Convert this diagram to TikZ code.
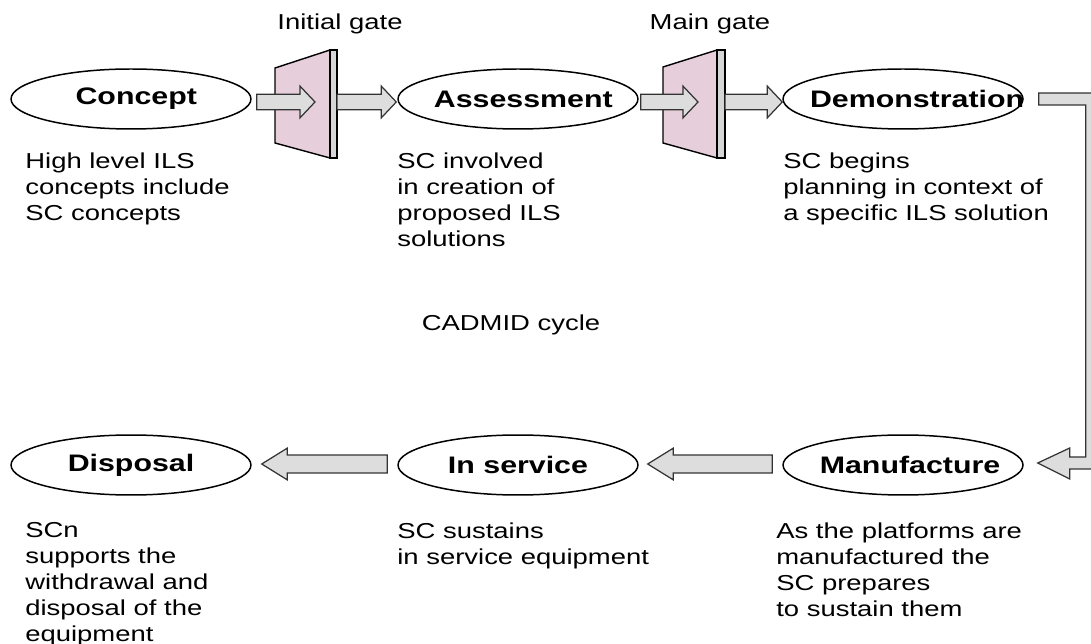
\documentclass[tikz,border=0pt]{standalone}
\usepackage{fontspec}
\setmainfont{Liberation Sans}[FakeStretch=1.27]
\usetikzlibrary{calc,shapes.geometric}
\definecolor{gatepink}{RGB}{230,206,219}
\definecolor{arrowgray}{RGB}{221,221,221}
\definecolor{bargray}{RGB}{214,214,214}

% block arrow: [head length]{shaft half width}{tail}{tip}, horizontal
\newcommand{\blockarrow}[4][8.5pt]{%
  \draw[blockarr] let \p1=#3, \p2=#4, \n1={sign(\x2-\x1)} in
    ({\x1},{\y1+#2}) -- ({\x2-\n1*#1},{\y1+#2}) -- ({\x2-\n1*#1},{\y1+9pt})
    -- ({\x2},{\y1}) -- ({\x2-\n1*#1},{\y1-9pt}) -- ({\x2-\n1*#1},{\y1-#2})
    -- ({\x1},{\y1-#2}) -- cycle;}

\tikzset{
  phase/.style={ellipse, draw, line width=0.85pt, minimum width=4.8cm,
    minimum height=1.2cm, inner sep=0pt, font=\fontsize{13.6}{15}\selectfont\bfseries},
  note/.style={anchor=north west, align=left, inner sep=0pt,
    font=\fontsize{12.3}{14.8}\selectfont},
  caption/.style={inner sep=0pt, font=\fontsize{12.3}{14.8}\selectfont},
  blockarr/.style={fill=arrowgray, draw=black!80, line width=0.7pt},
  gatefill/.style={fill=gatepink, draw, line width=0.8pt},
  gatebar/.style={fill=bargray, draw, line width=0.8pt}
}

\begin{document}
\begin{tikzpicture}[x=0.02cm, y=-0.02cm]
  \useasboundingbox (0,0) rectangle (1091,644);

  % Phasen oben
  \node[phase] (concept) at (131,99) {\makebox[0pt]{\hspace{6pt}Concept}};
  \node[phase] (assess) at (518,99) {\makebox[0pt]{\hspace{6pt}Assessment}};
  \node[phase] (demo) at (903,99) {\makebox[0pt]{\hspace{16pt}Demonstration}};
  % Phasen unten
  \node[phase] (disposal) at (131,465) {\makebox[0pt]{Disposal}};
  \node[phase] (service) at (518,465) {\makebox[0pt]{In service}};
  \node[phase] (manu) at (903,465) {\makebox[0pt]{\hspace{8pt}Manufacture}};

  % Gates
  \coordinate (gateA) at (275,104);
  \coordinate (gateB) at (663,104);
  \filldraw[gatefill, shift={(gateA)}] (0,-36) -- (55,-54) -- (55,54) -- (0,39) -- cycle;
  \filldraw[gatebar, shift={(gateA)}] (55,-54) rectangle (62,54);
  \filldraw[gatefill, shift={(gateB)}] (0,-37) -- (54,-54) -- (54,54) -- (0,39) -- cycle;
  \filldraw[gatebar, shift={(gateB)}] (54,-54) rectangle (62,54);
  \node[caption] (gateAlabel) at (340,24) {Initial gate};
  \node[caption] (gateBlabel) at (710,24) {Main gate};

  % Pfeile
  \blockarrow{4.4pt}{($(concept.east)+(5,3)$)}{($(gateA)+(40,-2)$)}
  \blockarrow{4.4pt}{($(gateA)+(62,-2)$)}{($(assess.west)+(-1,3)$)}
  \blockarrow{4.4pt}{($(assess.east)+(2,3)$)}{($(gateB)+(35,-2)$)}
  \blockarrow{4.4pt}{($(gateB)+(62,-2)$)}{($(demo.west)+(0,3)$)}
  \blockarrow[14.5pt]{5.1pt}{($(service.west)+(-10,-1)$)}{($(disposal.east)+(10,-1)$)}
  \blockarrow[14.5pt]{5.1pt}{($(manu.west)+(-10,-1)$)}{($(service.east)+(9,-1)$)}
  \draw[blockarr] ($(demo.east)+(15,-6)$) -- ($(demo.east)+(74,-6)$)
    -- ($(manu.east)+(74,4)$) -- ($(manu.east)+(46,4)$) -- ($(manu.east)+(46,14)$)
    -- ($(manu.east)+(14,-2)$) -- ($(manu.east)+(46,-17)$) -- ($(manu.east)+(46,-8)$)
    -- ($(manu.east)+(62,-8)$) -- ($(demo.east)+(62,6)$) -- ($(demo.east)+(15,6)$) -- cycle;

  % Texte
  \node[note] (conceptnote) at (25,152) {High level ILS\\concepts include\\SC concepts};
  \node[note] (assessnote) at (397,152) {SC involved\\in creation of\\proposed ILS\\solutions};
  \node[note] (demonote) at (783,152) {SC begins\\planning in context of\\a specific ILS solution};
  \node[note] (disposalnote) at (25,522) {SCn\\supports the\\withdrawal and\\disposal of the\\equipment};
  \node[note] (servicenote) at (397,522) {SC sustains\\in service equipment};
  \node[note] (manunote) at (776,522) {As the platforms are\\manufactured the\\SC prepares\\to sustain them};
  \node[caption] (cycle) at (511,325) {CADMID cycle};
\end{tikzpicture}
\end{document}
